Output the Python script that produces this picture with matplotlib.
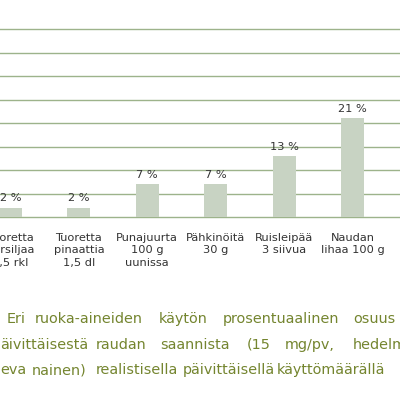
import matplotlib
matplotlib.use("Agg")
import matplotlib.pyplot as plt

categories = ["Tuoretta\npersiljaa\n1,5 rkl", "Tuoretta\npinaattia\n1,5 dl",
              "Punajuurta\n100 g\nuunissa", "Pähkinöitä\n30 g",
              "Ruisleipää\n3 siivua", "Naudan\nlihaa 100 g"]
values = [2, 2, 7, 7, 13, 21]
yticks = [0, 5, 10, 15, 20, 25, 30, 35, 40]
caption_lines = [
    ["Eri", "ruoka-aineiden", "käytön", "prosentuaalinen", "osuus"],
    ["äivittäisestä", "raudan", "saannista", "(15", "mg/pv,", "hedelmällisessä"],
    ["eva", "nainen)", "realistisella", "päivittäisellä", "käyttömäärällä"],
]

W, H = 400, 399
fig = plt.figure(figsize=(W / 100, H / 100), dpi=100)

step = 68.4
x0 = 10.5
ylo, yhi = -1, 41
ppu = (217 - 29.3) / 40
bot_px = 217 + ppu * (0 - ylo)
top_px = 29.3 - ppu * (yhi - 40)
ax = fig.add_axes([0, (H - bot_px) / H, 1, (bot_px - top_px) / H])
ax.set_xlim(-x0 / step, (W - x0) / step)
ax.set_ylim(ylo, yhi)

xs = list(range(len(categories)))
ax.bar(xs, values, width=23 / step, color="#C8D3C3", zorder=2)
ax.set_yticks(yticks)
ax.yaxis.grid(True, color="#9DB38B", linewidth=1.0, zorder=0)
ax.set_axisbelow(True)
ax.tick_params(axis="y", length=0, labelleft=False)
ax.set_xticks(xs)
ax.set_xticklabels(categories, fontsize=8.2, color="#333333", linespacing=1.3)
ax.tick_params(axis="x", length=0, pad=8)
for s in ax.spines.values():
    s.set_visible(False)

for x, v in zip(xs, values):
    ax.annotate(f"{v} %", (x, v), xytext=(0, 3), textcoords="offset points",
                ha="center", va="bottom", fontsize=8.2, color="#333333")

# justified caption: word anchor positions (pixels) and alignment per line
word_pos = [
    [(7, "left"), (89, "center"), (183.5, "center"), (280.5, "center"), (353, "left")],
    [(0, "left"), (121, "center"), (195, "center"), (258.5, "center"), (309.5, "center"), (353, "left")],
    [(0, "left"), (59.5, "center"), (136.5, "center"), (228.5, "center"), (277, "left")],
]
ys = [319, 345, 370]
for words, pos, y in zip(caption_lines, word_pos, ys):
    for w, (xx, ha) in zip(words, pos):
        fig.text(xx / W, (H - y) / H, w, ha=ha, va="center",
                 fontsize=10.4, color="#74852F")

fig.savefig("out.png", dpi=100)
